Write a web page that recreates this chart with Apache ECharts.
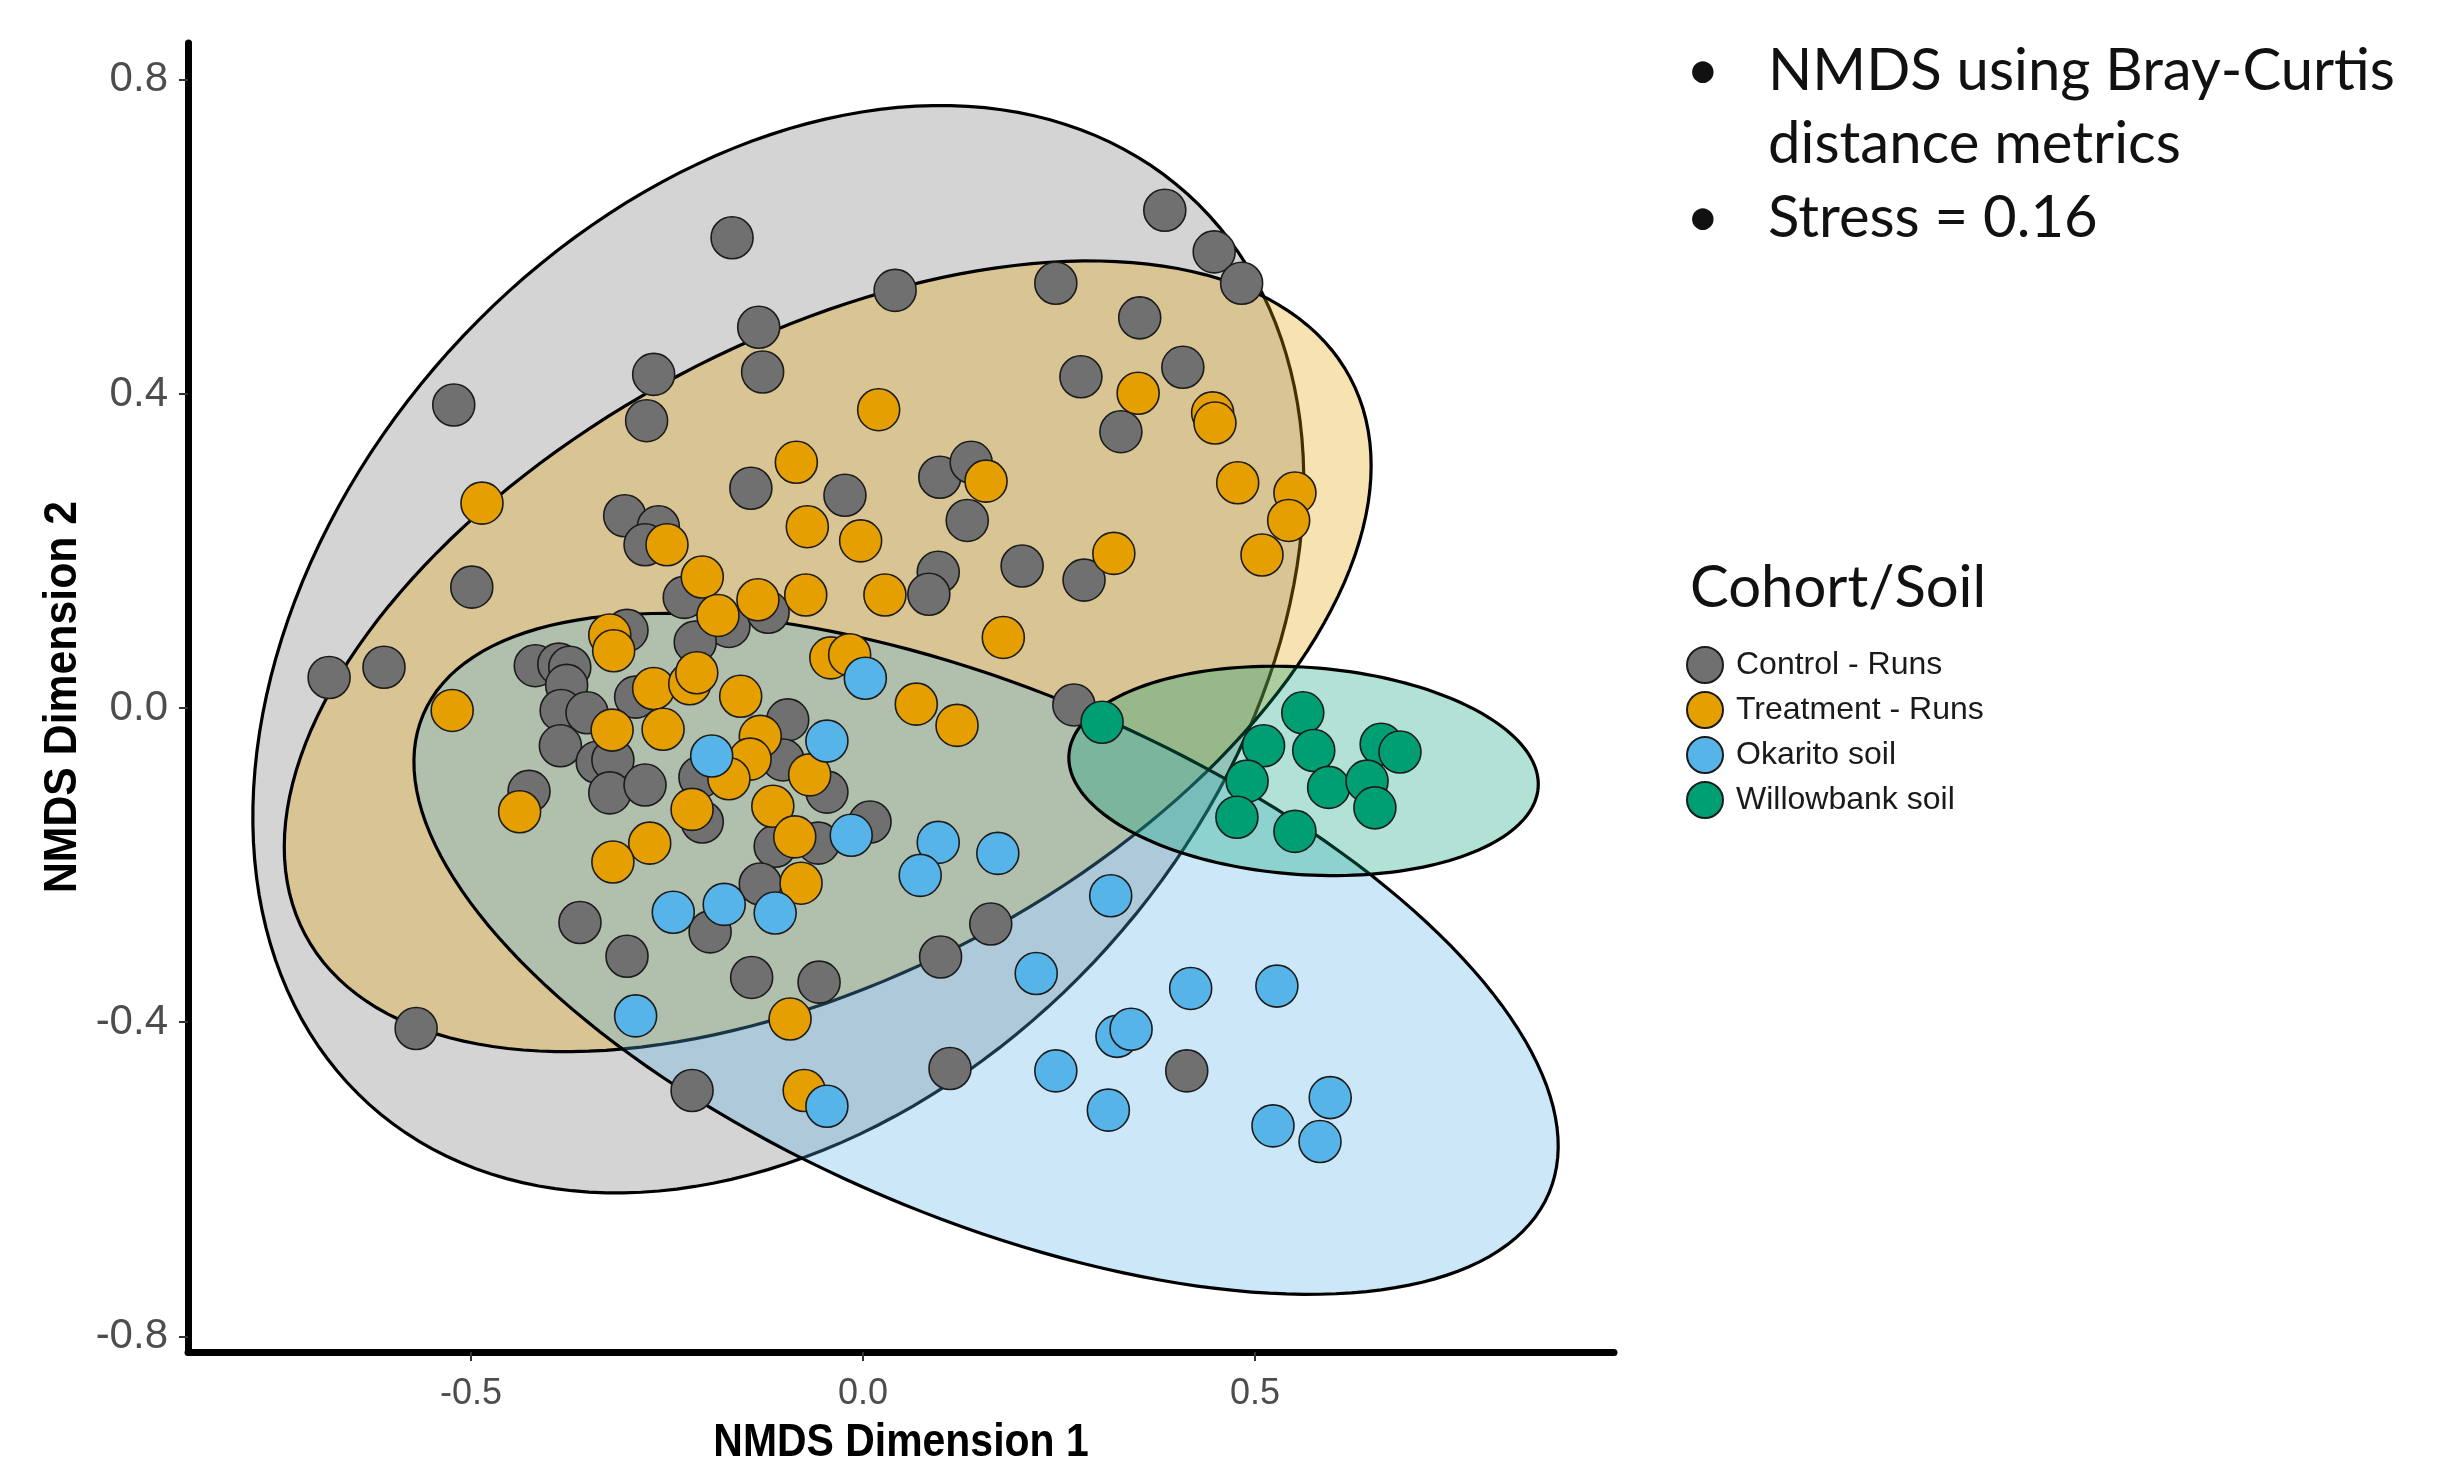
<!DOCTYPE html>
<html>
<head>
<meta charset="utf-8">
<title>NMDS ordination – Cohort/Soil</title>
<script src="https://cdn.jsdelivr.net/npm/echarts@6/dist/echarts.min.js"></script>
<style>
  html, body { margin: 0; padding: 0; background: #ffffff; }
  #chart { width: 2457px; height: 1467px; }
</style>
</head>
<body>
<div id="chart"></div>
<script>
// Groups shown in the legend and their fill colours
const groupNames = ['Control - Runs', 'Treatment - Runs', 'Okarito soil', 'Willowbank soil'];
const groupColors = ['#707070', '#E69F00', '#56B4E9', '#009E73'];

// NMDS site scores [Dimension 1, Dimension 2] for each group
const controlRuns = [
  [-0.681, 0.039], [-0.611, 0.052], [-0.522, 0.386], [-0.499, 0.154], [-0.570, -0.408],
  [-0.167, 0.599], [0.041, 0.532], [0.246, 0.541], [0.385, 0.634], [0.448, 0.581],
  [0.483, 0.541], [-0.133, 0.485], [-0.128, 0.428], [-0.267, 0.425], [-0.276, 0.366],
  [0.278, 0.422], [0.353, 0.497], [0.408, 0.434], [0.329, 0.352], [-0.143, 0.280],
  [-0.023, 0.271], [0.098, 0.294], [0.138, 0.313], [0.133, 0.239], [0.096, 0.173],
  [0.084, 0.145], [0.203, 0.181], [0.282, 0.163], [-0.304, 0.245], [-0.261, 0.231],
  [-0.278, 0.208], [-0.228, 0.141], [-0.171, 0.104], [-0.121, 0.122], [-0.214, 0.084],
  [-0.301, 0.099], [-0.418, 0.054], [-0.388, 0.056], [-0.374, 0.052], [-0.378, 0.029],
  [-0.385, -0.003], [-0.352, -0.006], [-0.386, -0.048], [-0.339, -0.069], [-0.319, -0.066],
  [-0.290, 0.014], [-0.426, -0.106], [-0.323, -0.108], [-0.278, -0.098], [-0.208, -0.088],
  [-0.205, -0.145], [-0.096, -0.015], [-0.102, -0.066], [-0.046, -0.107], [-0.112, -0.176],
  [-0.057, -0.172], [0.009, -0.145], [-0.131, -0.224], [-0.195, -0.285], [-0.361, -0.273],
  [-0.301, -0.316], [-0.142, -0.343], [-0.056, -0.349], [0.099, -0.317], [0.163, -0.275],
  [0.269, 0.004], [-0.218, -0.487], [0.111, -0.459], [0.413, -0.462]
];
const treatmentRuns = [
  [-0.486, 0.261], [-0.524, -0.003], [-0.438, -0.132], [-0.085, 0.313], [0.020, 0.380],
  [0.351, 0.401], [0.446, 0.376], [0.449, 0.363], [0.478, 0.287], [0.551, 0.274],
  [0.543, 0.239], [0.509, 0.195], [0.320, 0.197], [0.179, 0.090], [0.157, 0.289],
  [-0.071, 0.231], [-0.003, 0.213], [-0.073, 0.144], [0.028, 0.144], [-0.134, 0.138],
  [-0.250, 0.208], [-0.205, 0.167], [-0.185, 0.118], [-0.323, 0.093], [-0.318, 0.073],
  [-0.267, 0.025], [-0.221, 0.031], [-0.212, 0.045], [-0.156, 0.015], [-0.255, -0.027],
  [-0.320, -0.028], [-0.131, -0.036], [-0.144, -0.065], [-0.171, -0.090], [-0.068, -0.085],
  [-0.218, -0.129], [-0.115, -0.125], [-0.087, -0.164], [-0.272, -0.172], [-0.319, -0.196],
  [-0.079, -0.223], [-0.093, -0.396], [-0.041, 0.064], [-0.017, 0.068], [0.068, 0.005],
  [0.120, -0.022], [-0.075, -0.487]
];
const okaritoSoil = [
  [0.003, 0.038], [-0.046, -0.042], [-0.193, -0.061], [-0.015, -0.162], [0.096, -0.171],
  [0.073, -0.213], [0.172, -0.185], [-0.242, -0.260], [-0.177, -0.250], [-0.112, -0.261],
  [-0.290, -0.392], [0.316, -0.239], [0.221, -0.338], [0.418, -0.357], [0.528, -0.354],
  [0.324, -0.418], [0.342, -0.409], [0.246, -0.462], [0.313, -0.512], [0.596, -0.496],
  [0.523, -0.532], [0.583, -0.552], [-0.046, -0.507]
];
const willowbankSoil = [
  [0.305, -0.018], [0.561, -0.006], [0.511, -0.048], [0.575, -0.054], [0.661, -0.046],
  [0.685, -0.056], [0.490, -0.093], [0.594, -0.101], [0.643, -0.093], [0.653, -0.127],
  [0.477, -0.139], [0.551, -0.157]
];
const groupPoints = [controlRuns, treatmentRuns, okaritoSoil, willowbankSoil];

// Group confidence ellipses: centre, semi-axes and rotation (degrees), in NMDS units
const ellipseCentres = [[-0.108, 0.075], [-0.045, 0.066], [0.157, -0.313], [0.562, -0.080]];
const ellipseRadii = [[0.780, 0.566], [0.755, 0.405], [0.780, 0.335], [0.300, 0.132]];
const ellipseAngles = [48, 28, -23, -4];

// Axis ticks and titles
const xTicks = [-0.5, 0.0, 0.5];
const yTicks = [-0.8, -0.4, 0.0, 0.4, 0.8];
const xTitle = 'NMDS Dimension 1';
const yTitle = 'NMDS Dimension 2';

// Annotation text
const noteLines = ['NMDS using Bray-Curtis', 'distance metrics', 'Stress = 0.16'];
const legendTitle = 'Cohort/Soil';

function hexToRgba(hex, a) {
  const n = parseInt(hex.slice(1), 16);
  return 'rgba(' + ((n >> 16) & 255) + ',' + ((n >> 8) & 255) + ',' + (n & 255) + ',' + a + ')';
}

// Outline of one ellipse, traced through the chart's own coordinate system
function ellipseRenderer(fill) {
  return function (params, api) {
    const cx = api.value(0), cy = api.value(1);
    const a = api.value(2), b = api.value(3);
    const th = api.value(4) * Math.PI / 180;
    const pts = [];
    const n = 180;
    for (let k = 0; k < n; k++) {
      const t = 2 * Math.PI * k / n;
      const ex = a * Math.cos(t), ey = b * Math.sin(t);
      pts.push(api.coord([cx + ex * Math.cos(th) - ey * Math.sin(th),
                          cy + ex * Math.sin(th) + ey * Math.cos(th)]));
    }
    return {
      type: 'polygon',
      shape: { points: pts },
      style: { fill: fill, stroke: '#000000', lineWidth: 3.2 }
    };
  };
}

const ellipseSeries = groupNames.map((name, i) => ({
  type: 'custom',
  name: name + ' ellipse',
  silent: true,
  z: 1,
  renderItem: ellipseRenderer(hexToRgba(groupColors[i], 0.3)),
  encode: { x: 0, y: 1 },
  data: [[ellipseCentres[i][0], ellipseCentres[i][1], ellipseRadii[i][0], ellipseRadii[i][1], ellipseAngles[i]]]
}));

const pointSeries = groupNames.map((name, i) => ({
  type: 'scatter',
  name: name,
  z: 2,
  symbol: 'circle',
  symbolSize: 42,
  itemStyle: { color: groupColors[i], opacity: 1, borderColor: '#1c1c1c', borderWidth: 1.6 },
  emphasis: { disabled: true },
  data: groupPoints[i]
}));

const chart = echarts.init(document.getElementById('chart'), null, { renderer: 'canvas' });

const sans = '"Liberation Sans", Arial, sans-serif';
const noteFont = '58px Lato, "Open Sans", sans-serif';
const titleFont = 'bold 46px "Liberation Sans", Arial, sans-serif';

chart.setOption({
  backgroundColor: '#ffffff',
  animation: false,
  grid: { left: 188, right: 843, top: 43, bottom: 115, containLabel: false },
  xAxis: {
    type: 'value',
    min: -0.861,
    max: 0.958,
    splitLine: { show: false },
    axisLine: { show: true, onZero: false, lineStyle: { color: '#000000', width: 7 } },
    axisTick: { show: true, length: 9, customValues: xTicks, lineStyle: { color: '#333333', width: 2 } },
    axisLabel: {
      customValues: xTicks,
      margin: 24,
      fontFamily: sans, fontSize: 36, color: '#4d4d4d',
      formatter: v => v.toFixed(1)
    }
  },
  yAxis: {
    type: 'value',
    min: -0.82,
    max: 0.847,
    splitLine: { show: false },
    axisLine: { show: true, onZero: false, lineStyle: { color: '#000000', width: 7 } },
    axisTick: { show: true, length: 9, customValues: yTicks, lineStyle: { color: '#333333', width: 2 } },
    axisLabel: {
      customValues: yTicks,
      margin: 20,
      fontFamily: sans, fontSize: 42, color: '#4d4d4d',
      formatter: v => v.toFixed(1)
    }
  },
  legend: {
    show: true,
    orient: 'vertical',
    left: 1681,
    top: 641,
    data: groupNames,
    icon: 'circle',
    itemWidth: 36,
    itemHeight: 36,
    itemGap: 7,
    selectedMode: false,
    textStyle: { fontFamily: sans, fontSize: 32, color: '#1a1a1a', padding: [0, 0, 0, 8] }
  },
  graphic: [
    // axis titles, set in a slightly condensed bold face
    { type: 'text', x: 901, y: 1443, scaleX: 0.89, silent: true,
      style: { text: xTitle, font: titleFont, fill: '#000000', align: 'center', verticalAlign: 'middle' } },
    { type: 'text', x: 63, y: 697, rotation: Math.PI / 2, scaleX: 0.93, silent: true,
      style: { text: yTitle, font: titleFont, fill: '#000000', align: 'center', verticalAlign: 'middle' } },
    // method notes
    { type: 'text', left: 1686, top: 42, silent: true,
      style: { text: '•', font: noteFont, fill: '#111111' } },
    { type: 'text', left: 1768, top: 42, silent: true,
      style: { text: noteLines[0], font: noteFont, fill: '#111111' } },
    { type: 'text', left: 1768, top: 115, silent: true,
      style: { text: noteLines[1], font: noteFont, fill: '#111111' } },
    { type: 'text', left: 1686, top: 189, silent: true,
      style: { text: '•', font: noteFont, fill: '#111111' } },
    { type: 'text', left: 1768, top: 189, silent: true,
      style: { text: noteLines[2], font: noteFont, fill: '#111111' } },
    // legend heading
    { type: 'text', left: 1690, top: 559, silent: true,
      style: { text: legendTitle, font: '58px Lato, "Open Sans", sans-serif', fill: '#111111' } }
  ],
  series: ellipseSeries.concat(pointSeries)
});
</script>
</body>
</html>
